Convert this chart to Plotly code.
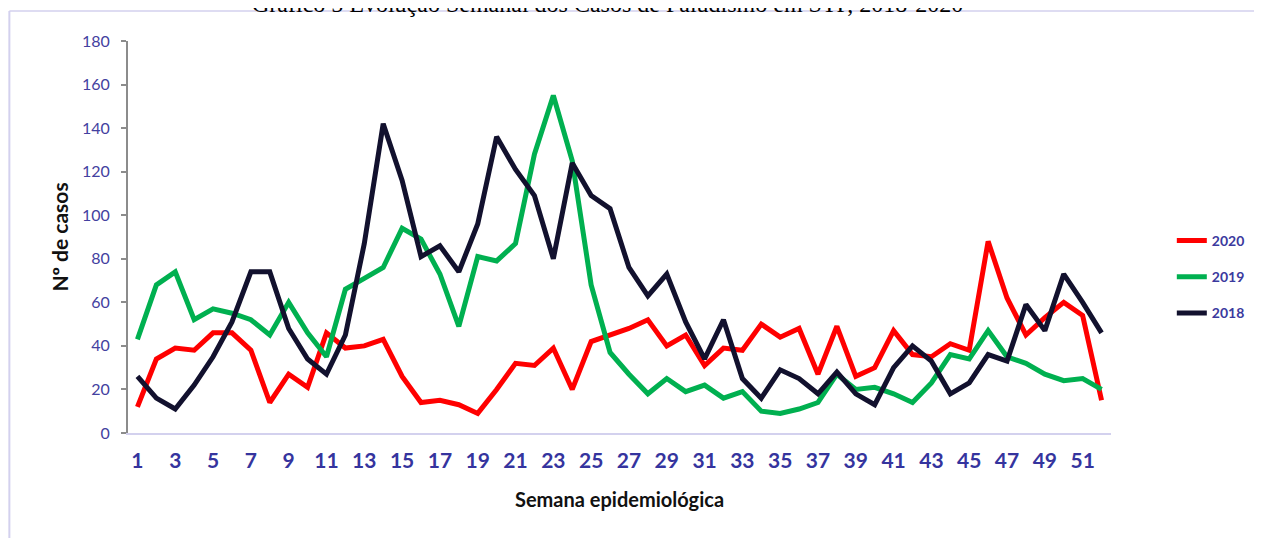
import plotly.graph_objects as go

weeks = list(range(1, 53))

cases_2020 = [12, 34, 39, 38, 46, 46, 38, 14, 27, 21,
              46, 39, 40, 43, 26, 14, 15, 13, 9, 20,
              32, 31, 39, 20, 42, 45, 48, 52, 40, 45,
              31, 39, 38, 50, 44, 48, 27, 49, 26, 30,
              47, 36, 35, 41, 38, 88, 62, 45, 53, 60,
              54, 15]

cases_2019 = [43, 68, 74, 52, 57, 55, 52, 45, 60, 46,
              35, 66, 71, 76, 94, 89, 73, 49, 81, 79,
              87, 128, 155, 125, 68, 37, 27, 18, 25, 19,
              22, 16, 19, 10, 9, 11, 14, 27, 20, 21,
              18, 14, 23, 36, 34, 47, 35, 32, 27, 24,
              25, 20]

cases_2018 = [26, 16, 11, 22, 35, 51, 74, 74, 48, 34,
              27, 45, 87, 142, 116, 81, 86, 74, 96, 136,
              121, 109, 80, 124, 109, 103, 76, 63, 73, 51,
              34, 52, 25, 16, 29, 25, 18, 28, 18, 13,
              30, 40, 33, 18, 23, 36, 33, 59, 47, 73,
              60, 46]

series_names = ["2020", "2019", "2018"]
series_colors = ["#FF0000", "#00B050", "#12112E"]

x_tick_vals = [1, 3, 5, 7, 9, 11, 13, 15, 17, 19, 21, 23, 25, 27, 29, 31, 33,
               35, 37, 39, 41, 43, 45, 47, 49, 51]
x_tick_labels = ["1", "3", "5", "7", "9", "11", "13", "15", "17", "19", "21",
                 "23", "25", "27", "29", "31", "33", "35", "37", "39", "41",
                 "43", "45", "47", "49", "51"]
y_tick_vals = [0, 20, 40, 60, 80, 100, 120, 140, 160, 180]

title_text = "Gráfico 5 Evolução Semanal dos Casos de Paludismo em STP, 2018-2020"
x_title = "Semana epidemiológica"
y_title = "Nº de casos"

label_color = "#3B3A9E"
FONT = "Lato"

fig = go.Figure()
for name, vals, col in zip(series_names, [cases_2020, cases_2019, cases_2018], series_colors):
    fig.add_trace(go.Scatter(
        x=weeks, y=vals, mode="lines", name=name, legendgroup=name,
        line=dict(color=col, width=5, shape="linear"),
    ))

# page has an 8px body margin; figure sized to fit in the window
W, H = 1254, 530
L, R, T, B = 120, 148, 33, 105
pw = W - L - R
ph = H - T - B
OFF = 8

def px_x(px):
    return (px - OFF - L) / pw

def px_y(py):
    return (H - B - (py - OFF)) / ph

fig.update_layout(
    width=W, height=H,
    margin=dict(l=L, r=R, t=T, b=B, pad=0),
    paper_bgcolor="white", plot_bgcolor="white",
    font=dict(family=FONT, color=label_color),
    showlegend=True,
    legend=dict(
        x=px_x(1175), xanchor="left",
        y=px_y(277), yanchor="middle",
        traceorder="grouped", tracegroupgap=15,
        font=dict(family=FONT, size=14, color=label_color, weight="bold"),
        bgcolor="rgba(0,0,0,0)", itemwidth=30,
    ),
    xaxis=dict(
        range=[0.5, 52.5], tickmode="array", tickvals=x_tick_vals, ticktext=x_tick_labels,
        showgrid=False, zeroline=False, showline=True, linecolor="#D3D1EE", linewidth=2,
        ticks="", ticklabelstandoff=8,
        tickfont=dict(family=FONT, size=21, color="#35349E", weight="bold"),
        title=dict(text=x_title, standoff=22,
                   font=dict(family=FONT, size=20, color="#111111", weight="bold")),
    ),
    yaxis=dict(
        range=[0, 180], tickmode="array", tickvals=y_tick_vals,
        showgrid=False, zeroline=False, showline=True, linecolor="#8C8C8C", linewidth=2,
        ticks="outside", ticklen=5, tickwidth=2, tickcolor="#8C8C8C", ticklabelstandoff=8,
        tickfont=dict(family=FONT, size=16, color="#4341A0"),
        title=dict(text=y_title, standoff=8,
                   font=dict(family=FONT, size=21, color="#111111", weight="bold")),
    ),
    annotations=[dict(
        text=title_text, xref="paper", yref="paper",
        x=px_x(609), y=px_y(4), xanchor="center", yanchor="middle",
        showarrow=False, font=dict(family="Liberation Serif", size=24, color="#000000"),
    )],
    shapes=[
        dict(type="line", xref="paper", yref="paper", x0=px_x(9), x1=px_x(1262),
             y0=px_y(11), y1=px_y(11), line=dict(color="#D3D1EE", width=1.5), layer="below"),
        dict(type="line", xref="paper", yref="paper", x0=px_x(9), x1=px_x(9),
             y0=px_y(11), y1=px_y(538), line=dict(color="#D3D1EE", width=2), layer="below"),
    ],
)

fig.write_html("out.html")
